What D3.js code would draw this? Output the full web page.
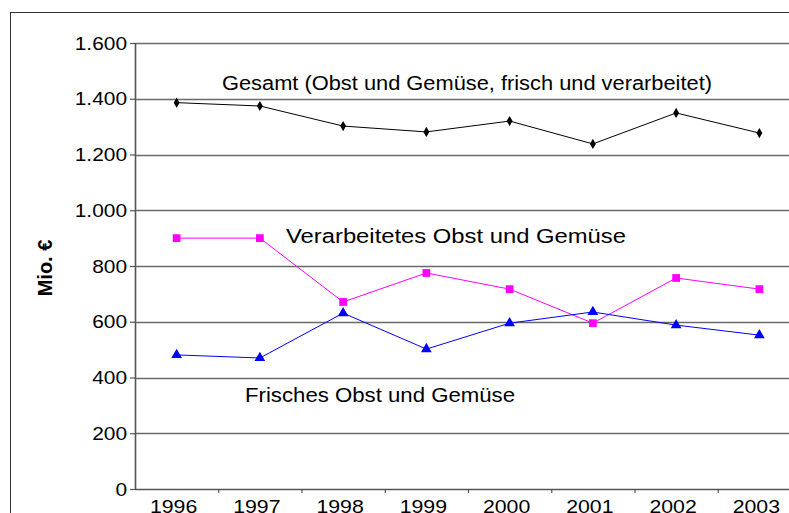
<!DOCTYPE html>
<html>
<head>
<meta charset="utf-8">
<script src="https://cdn.jsdelivr.net/npm/d3@7"></script>
<style>
	body { margin: 0; background: #fff; }
	svg { display: block; font-family: "Liberation Sans", Arial, sans-serif; }
</style>
</head>
<body>
<div id="graf"></div>
<script>
// dades llegides del gràfic
const anys = ['1996', '1997', '1998', '1999', '2000', '2001', '2002', '2003'];
const gesamt = [1386, 1374, 1302, 1281, 1320, 1238, 1349, 1277];
const verarbeitet = [900, 900, 671, 775, 717, 595, 757, 717];
const frisch = [481, 470, 631, 502, 595, 635, 588, 552];
const ticksY = [0, 200, 400, 600, 800, 1000, 1200, 1400, 1600];
const etiquetes = ['Gesamt (Obst und Gemüse, frisch und verarbeitet)', 'Verarbeitetes Obst und Gemüse', 'Frisches Obst und Gemüse'];

const Amplada = 789, Alçada = 513;
const marge = {dalt: 43, esquerra: 135};
const amplada = 666, alçada = 446;
const FONT = '"Liberation Sans", Arial, sans-serif';

const svg = d3.select('#graf').append('svg')
	.attr('width', Amplada)
	.attr('height', Alçada);

// estira el text en horitzontal, com al gràfic original
function estira(sel, f) {
	sel.each(function () {
		const l = this.getComputedTextLength();
		d3.select(this).attr('textLength', l * f).attr('lengthAdjust', 'spacingAndGlyphs');
	});
}

// marc exterior
svg.append('rect')
	.attr('x', 10.5).attr('y', 12.5)
	.attr('width', 900).attr('height', 600)
	.attr('fill', 'none')
	.attr('stroke', '#333')
	.attr('stroke-width', 1);

const g = svg.append('g').attr('transform', `translate(${marge.esquerra},${marge.dalt})`);

const x = d3.scaleBand().domain(anys).range([0, amplada]);
const y = d3.scaleLinear().domain([0, 1600]).range([alçada, 0]);
const cx = d => x(d) + x.bandwidth() / 2;

const fmt = v => d3.format(',')(v).replace(/,/g, '.');

// línies de graella
g.append('g').selectAll('line')
	.data(ticksY.filter(t => t > 0))
	.join('line')
		.attr('x1', 0).attr('x2', amplada)
		.attr('y1', d => Math.round(y(d)) + 0.5).attr('y2', d => Math.round(y(d)) + 0.5)
		.attr('stroke', '#6a6a6a')
		.attr('stroke-width', 1.6);

// eix Y
const eixY = g.append('g')
	.call(d3.axisLeft(y).tickValues(ticksY).tickFormat(fmt).tickSize(5).tickPadding(3));
eixY.select('.domain').attr('stroke', '#555').attr('stroke-width', 1.6).attr('d', `M0.5,0V${alçada}`);
eixY.selectAll('.tick line').attr('stroke', '#555').attr('stroke-width', 1.2);
eixY.selectAll('text')
	.attr('font-size', 19).attr('fill', '#000').attr('font-family', FONT)
	.call(estira, 1.1);

// eix X
const eixX = g.append('g')
	.attr('transform', `translate(0,${alçada})`)
	.call(d3.axisBottom(x).tickSize(0).tickPadding(11));
eixX.select('.domain').attr('stroke', '#555').attr('stroke-width', 1.6).attr('d', `M0,0.5H${amplada}`);
eixX.selectAll('text')
	.attr('font-size', 19).attr('fill', '#000').attr('font-family', FONT)
	.attr('dx', -3)
	.call(estira, 1.12);
g.append('g').selectAll('line')
	.data(anys.slice(1))
	.join('line')
		.attr('x1', d => x(d) + 0.5).attr('x2', d => x(d) + 0.5)
		.attr('y1', alçada).attr('y2', alçada + 4)
		.attr('stroke', '#555').attr('stroke-width', 1.2);

// títol eix Y
svg.append('text')
	.attr('transform', 'translate(52,268) rotate(-90)')
	.attr('text-anchor', 'middle')
	.attr('font-size', 20)
	.attr('font-weight', 'bold')
	.text('Mio. €');

const linia = d3.line().x((d, i) => cx(anys[i])).y(d => y(d));

const sèries = [
	{valors: gesamt, color: '#000000', marca: d3.symbolDiamond, mida: 30},
	{valors: verarbeitet, color: '#ff00ff', marca: d3.symbolSquare, mida: 60},
	{valors: frisch, color: '#0000ff', marca: d3.symbolTriangle, mida: 50}
];

sèries.forEach(s => {
	g.append('path')
		.datum(s.valors)
		.attr('d', linia)
		.attr('fill', 'none')
		.attr('stroke', s.color)
		.attr('stroke-width', 1);
	g.append('g').selectAll('path')
		.data(s.valors)
		.join('path')
			.attr('transform', (d, i) => `translate(${cx(anys[i])},${y(d)})`)
			.attr('d', d3.symbol().type(s.marca).size(s.mida))
			.attr('fill', s.color);
});

// etiquetes de les sèries: x, línia base, amplada
const posEt = [[222, 90, 490], [286, 243, 340], [245, 402, 270]];
svg.append('g').selectAll('text')
	.data(etiquetes)
	.join('text')
		.attr('x', (d, i) => posEt[i][0])
		.attr('y', (d, i) => posEt[i][1])
		.attr('textLength', (d, i) => posEt[i][2])
		.attr('lengthAdjust', 'spacingAndGlyphs')
		.attr('font-size', 19.5)
		.text(d => d);
</script>
</body>
</html>
